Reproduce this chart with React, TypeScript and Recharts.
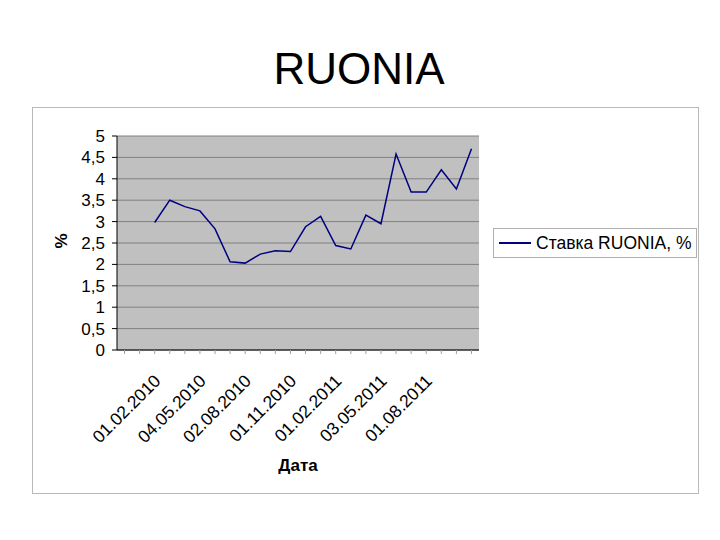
import { LineChart, Line, XAxis, YAxis, CartesianGrid, Legend } from 'recharts'

const FONT = '"Liberation Sans", Arial, sans-serif'

// monthly observations, first two months have no value
const DATES = [
  '01.12.2009', '11.01.2010', '01.02.2010', '01.03.2010', '01.04.2010', '04.05.2010',
  '01.06.2010', '01.07.2010', '02.08.2010', '01.09.2010', '01.10.2010', '01.11.2010',
  '01.12.2010', '11.01.2011', '01.02.2011', '01.03.2011', '01.04.2011', '03.05.2011',
  '01.06.2011', '01.07.2011', '01.08.2011', '01.09.2011', '03.10.2011', '01.11.2011',
]
const RATES: (number | null)[] = [
  null, null, 2.98, 3.5, 3.35, 3.25,
  2.83, 2.06, 2.03, 2.24, 2.32, 2.3,
  2.88, 3.12, 2.44, 2.36, 3.15, 2.95,
  4.58, 3.69, 3.69, 4.21, 3.76, 4.7,
]
const LABELED_DATES = [
  '01.02.2010', '04.05.2010', '02.08.2010', '01.11.2010',
  '01.02.2011', '03.05.2011', '01.08.2011',
]
const Y_TICKS = [0, 0.5, 1, 1.5, 2, 2.5, 3, 3.5, 4, 4.5, 5]
const SERIES_NAME = 'Ставка RUONIA, %'

const data = DATES.map((date, i) => ({ date, rate: RATES[i] }))

function DateTick({ x, y, payload }: any) {
  if (!LABELED_DATES.includes(payload.value)) return null
  const ax = x + 7
  const ay = y + 26
  return (
    <text
      x={ax}
      y={ay}
      textAnchor="end"
      transform={`rotate(-45 ${ax} ${ay})`}
      fontSize={17.5}
      fontFamily={FONT}
      fill="#000"
    >
      {payload.value}
    </text>
  )
}

function LegendBox() {
  return (
    <div
      style={{
        width: 202, height: 28, border: '1px solid #b0b0b0', background: '#fff',
        display: 'flex', alignItems: 'center', fontFamily: FONT, fontSize: 17.5, color: '#000',
        boxSizing: 'content-box', whiteSpace: 'nowrap',
      }}
    >
      <div style={{ width: 32, height: 1.5, background: '#000080', marginLeft: 5, marginRight: 5 }} />
      <span>{SERIES_NAME}</span>
    </div>
  )
}

export default function App() {
  return (
    <div style={{ position: 'absolute', left: 0, top: 0, width: 720, height: 540, background: '#fff' }}>
      <svg width={720} height={540} style={{ position: 'absolute', left: 0, top: 0 }}>
        <text x={359} y={84} textAnchor="middle" fontSize={44} fontFamily={FONT} fill="#000">
          RUONIA
        </text>
        <rect x={32.5} y={107.5} width={666} height={386} fill="#fff" stroke="#b8b8b8" strokeWidth={1} />
      </svg>
      <div style={{ position: 'absolute', left: 0, top: 0 }}>
        <LineChart
          width={720}
          height={540}
          data={data}
          margin={{ top: 136, right: 241, bottom: 130, left: 57 }}
        >
          <CartesianGrid vertical={false} fill="#c0c0c0" stroke="#808080" strokeWidth={1} fillOpacity={1} />
          <XAxis
            dataKey="date"
            interval={0}
            height={60}
            padding={{ left: 7.5, right: 7.5 }}
            tick={<DateTick />}
            tickLine={{ stroke: '#a0a0a0' }}
            tickSize={4}
            axisLine={{ stroke: '#000' }}
          />
          <YAxis
            width={60}
            domain={[0, 5]}
            ticks={Y_TICKS}
            interval={0}
            tickFormatter={(v: number) => String(v).replace('.', ',')}
            tick={{ fontSize: 17, fontFamily: FONT, fill: '#000' }}
            tickSize={5}
            tickMargin={7}
            tickLine={{ stroke: '#000' }}
            axisLine={{ stroke: '#000' }}
          />
          <YAxis
            yAxisId="edge"
            orientation="right"
            width={0}
            tick={false}
            tickLine={false}
            axisLine={{ stroke: '#808080' }}
          />
          <Legend
            layout="horizontal"
            verticalAlign="middle"
            content={() => <LegendBox />}
            wrapperStyle={{ position: 'absolute', left: 493, top: 228, width: 'auto' }}
          />
          <Line
            type="linear"
            dataKey="rate"
            name={SERIES_NAME}
            stroke="#000080"
            strokeWidth={1.5}
            dot={false}
            isAnimationActive={false}
          />
        </LineChart>
      </div>
      <svg width={720} height={540} style={{ position: 'absolute', left: 0, top: 0, pointerEvents: 'none' }}>
        <text
          x={67}
          y={241}
          textAnchor="middle"
          transform="rotate(-90 67 241)"
          fontSize={17}
          fontWeight="bold"
          fontFamily={FONT}
          fill="#000"
        >
          %
        </text>
        <text x={298} y={471} textAnchor="middle" fontSize={17} fontWeight="bold" fontFamily={FONT} fill="#000">
          Дата
        </text>
      </svg>
    </div>
  )
}
